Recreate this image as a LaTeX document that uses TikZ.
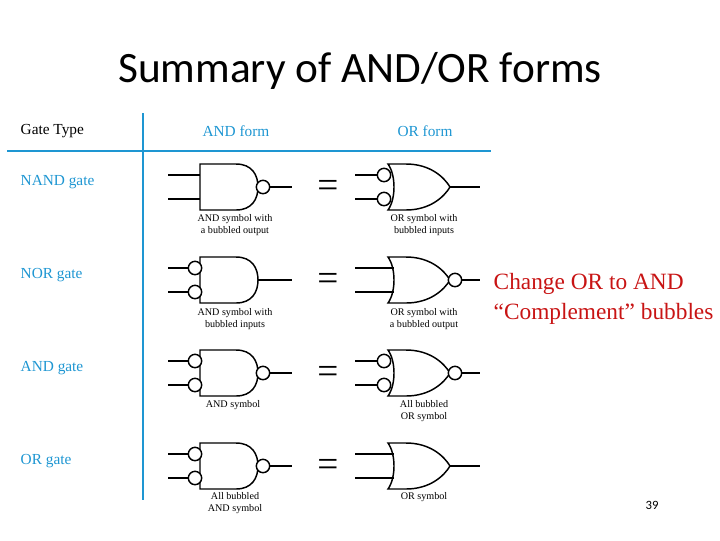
\documentclass[tikz,border=0pt]{standalone}
\usepackage{fontspec}
\setmainfont{Liberation Serif}
\newfontfamily\slidefont{Carlito}
\definecolor{hdblue}{RGB}{30,150,210}
\definecolor{chred}{RGB}{200,20,20}
\tikzset{
  wire/.style={line width=1.1pt},
  bub/.style={circle, draw, line width=1.1pt, fill=white, minimum size=10pt, inner sep=0pt},
  gatecap/.style={font=\fontsize{7.6}{8.4}\selectfont, align=center},
  rowlbl/.style={anchor=west, text=hdblue, font=\fontsize{11.5}{13}\selectfont},
}
% AND body, left edge at (#1,#2)
\newcommand\andbody[2]{%
  \draw[wire, shift={(#1,#2)}] (0,-23) -- (36,-23) .. controls (52,-23) and (58,-12) .. (58,0)
    .. controls (58,12) and (52,23) .. (36,23) -- (0,23) -- cycle;}
% OR body, left edge at (#1,#2)
\newcommand\orbody[2]{%
  \draw[wire, shift={(#1,#2)}] (0,-23) .. controls (8,-12) and (8,12) .. (0,23)
    -- (18,23) .. controls (42,23) and (56,10) .. (62,0)
    .. controls (56,-10) and (42,-23) .. (18,-23) -- cycle;}
\begin{document}
\begin{tikzpicture}[x=0.75pt, y=-0.75pt]
\useasboundingbox (0,0) rectangle (720,540);
% title
\node[font=\slidefont\fontsize{32.5}{36}\selectfont] (title) at (360,71) {Summary of AND/OR forms};
% table frame
\coordinate (hl) at (7,151); \coordinate (hr) at (491,151);
\coordinate (vt) at (143,113); \coordinate (vb) at (143,500);
\draw[hdblue, line width=1.4pt] (hl) -- (hr);
\draw[hdblue, line width=1.4pt] (vt) -- (vb);
\node[anchor=west, font=\fontsize{11.5}{13}\selectfont] (gtype) at (16,131) {Gate Type};
\node[text=hdblue, font=\fontsize{11.5}{13}\selectfont] (andform) at (236,131) {AND form};
\node[text=hdblue, font=\fontsize{11.5}{13}\selectfont] (orform) at (425,131) {OR form};
\node[rowlbl] (lnand) at (16,182) {NAND gate};
\node[rowlbl] (lnor) at (16,275) {NOR gate};
\node[rowlbl] (land) at (16,368) {AND gate};
\node[rowlbl] (lor) at (16,461) {OR gate};
% gates
\foreach \y/\ai/\ao/\oi/\oo in {187/0/1/1/0, 280/1/0/0/1, 373/1/1/1/1, 466/1/1/0/0}{
  \andbody{200}{\y}
  \orbody{388}{\y}
  \node[font=\fontsize{28}{28}\selectfont] at (328,\y+2) {=};
  % AND inputs
  \ifnum\ai=1
    \node[bub] (ab1) at (195,\y-12) {}; \node[bub] (ab2) at (195,\y+12) {};
    \draw[wire] (168,\y-12) -- (ab1.west); \draw[wire] (168,\y+12) -- (ab2.west);
  \else
    \draw[wire] (168,\y-12) -- (200,\y-12); \draw[wire] (168,\y+12) -- (200,\y+12);
  \fi
  % AND output
  \ifnum\ao=1
    \node[bub] (aob) at (263,\y) {}; \draw[wire] (aob.east) -- (292,\y);
  \else
    \draw[wire] (258,\y) -- (292,\y);
  \fi
  % OR inputs
  \ifnum\oi=1
    \node[bub] (ob1) at (384,\y-12) {}; \node[bub] (ob2) at (384,\y+12) {};
    \draw[wire] (355,\y-12) -- (ob1.west); \draw[wire] (355,\y+12) -- (ob2.west);
  \else
    \draw[wire] (355,\y-12) -- (394,\y-12); \draw[wire] (355,\y+12) -- (394,\y+12);
  \fi
  % OR output
  \ifnum\oo=1
    \node[bub] (oob) at (455,\y) {}; \draw[wire] (oob.east) -- (480,\y);
  \else
    \draw[wire] (450,\y) -- (480,\y);
  \fi
}
% captions
\node[gatecap] (c1a) at (235,225) {AND symbol with\\a bubbled output};
\node[gatecap] (c1o) at (424,225) {OR symbol with\\bubbled inputs};
\node[gatecap] (c2a) at (235,319) {AND symbol with\\bubbled inputs};
\node[gatecap] (c2o) at (424,319) {OR symbol with\\a bubbled output};
\node[gatecap] (c3a) at (233,405) {AND symbol};
\node[gatecap] (c3o) at (424,411) {All bubbled\\OR symbol};
\node[gatecap] (c4a) at (235,503) {All bubbled\\AND symbol};
\node[gatecap] (c4o) at (424,497) {OR symbol};
% side note
\node[anchor=west, text=chred, font=\fontsize{17.5}{22}\selectfont, align=left] (note) at (489,299)
  {Change OR to AND\\``Complement'' bubbles};
\node[font=\slidefont\fontsize{9.5}{10}\selectfont] (pnum) at (652,505) {39};
\end{tikzpicture}
\end{document}
